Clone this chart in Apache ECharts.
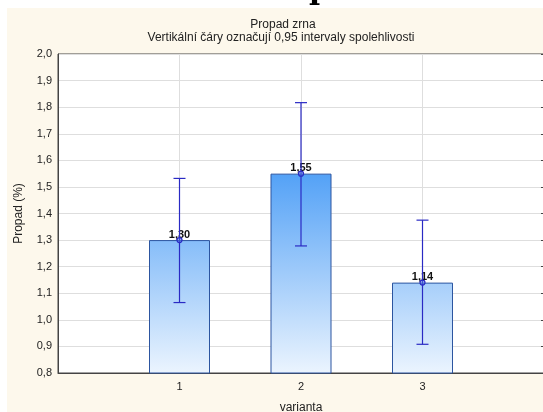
<!DOCTYPE html>
<html>
<head>
<meta charset="utf-8">
<script src="https://cdn.jsdelivr.net/npm/echarts@6/dist/echarts.min.js"></script>
<style>
  html, body { margin: 0; padding: 0; background: #ffffff; overflow: hidden; }
  #main { position: absolute; left: 0; top: 0; width: 547px; height: 412px; }
</style>
</head>
<body>
<div id="main"></div>
<script>
// varianta (pozice na ose x)
var varianty = [1, 2, 3];
// průměrný propad (%)
var prumery = [1.30, 1.55, 1.14];
// 0,95 intervaly spolehlivosti
var dolniMez = [1.065, 1.278, 0.908];
var horniMez = [1.532, 1.817, 1.375];
// osa y
var yMin = 0.8, yMax = 2.0, yKrok = 0.1;

var carka = function (v, d) {
    return v.toFixed(d).replace('.', ',');
};

var myChart = echarts.init(document.getElementById('main'));

var sloupce = [];
var chyby = [];
for (var i = 0; i < varianty.length; i++) {
    sloupce.push([varianty[i], prumery[i]]);
    chyby.push([varianty[i], dolniMez[i], horniMez[i], prumery[i]]);
}

var font = 'Liberation Sans, Arial, sans-serif';
var titulek = { fontSize: 12, fontWeight: 'normal', color: '#222', fontFamily: font, lineHeight: 14 };

var option = {
    backgroundColor: '#ffffff',
    animation: false,
    textStyle: { fontFamily: font },
    title: [{
        text: 'Propad zrna',
        left: 283,
        textAlign: 'center',
        top: 18,
        padding: 0,
        textStyle: titulek
    }, {
        text: 'Vertikální čáry označují 0,95 intervaly spolehlivosti',
        left: 281,
        textAlign: 'center',
        top: 31,
        padding: 0,
        textStyle: titulek
    }],
    graphic: [{
        type: 'rect',
        left: 7,
        top: 8,
        z: -10,
        shape: { width: 540, height: 404 },
        style: { fill: '#fdf8ec' }
    }, {
        type: 'text',
        left: 309,
        top: -24,
        style: { text: 'p', font: 'bold 30px "DejaVu Serif", serif', fill: '#000' }
    }],
    grid: {
        left: 58,
        right: 3,
        top: 54,
        bottom: 39,
        outerBoundsMode: 'none',
        show: true,
        backgroundColor: '#ffffff',
        borderColor: '#444',
        borderWidth: 1
    },
    xAxis: {
        type: 'value',
        min: 0,
        max: 4,
        interval: 1,
        name: 'varianta',
        nameLocation: 'middle',
        nameGap: 29,
        nameTextStyle: { fontSize: 12, color: '#222' },
        axisLine: { show: true, lineStyle: { color: '#444' } },
        axisTick: { show: true, inside: true, length: 3, lineStyle: { color: '#444' } },
        axisLabel: {
            fontSize: 11, color: '#222', margin: 8,
            formatter: function (v) { return (v >= 1 && v <= 3) ? String(v) : ''; }
        },
        splitLine: { show: true, lineStyle: { color: '#dedede' } }
    },
    yAxis: [{
        type: 'value',
        min: yMin,
        max: yMax,
        interval: yKrok,
        name: 'Propad (%)',
        nameLocation: 'middle',
        nameGap: 33,
        nameTextStyle: { fontSize: 12, color: '#222' },
        axisLine: { show: true, lineStyle: { color: '#444' } },
        axisTick: { show: false },
        axisLabel: {
            fontSize: 11, color: '#222', margin: 6,
            formatter: function (v) { return carka(v, 1); }
        },
        splitLine: { show: true, lineStyle: { color: '#dedede' } }
    }, {
        type: 'value',
        position: 'right',
        min: yMin,
        max: yMax,
        interval: yKrok,
        axisLine: { show: false },
        axisTick: { show: true, inside: true, length: 3, lineStyle: { color: '#444' } },
        axisLabel: { show: false },
        splitLine: { show: false }
    }],
    series: [
        {
            type: 'bar',
            data: sloupce,
            barWidth: 61,
            itemStyle: {
                color: new echarts.graphic.LinearGradient(0, 168, 0, 373, [
                    { offset: 0, color: '#4f9ff6' },
                    { offset: 1, color: '#ebf4fe' }
                ], true),
                borderColor: '#2c55a0',
                borderWidth: 1
            },
            label: {
                show: true,
                position: 'top',
                distance: 0,
                fontSize: 11,
                fontWeight: 'bold',
                color: '#111',
                formatter: function (p) { return carka(p.value[1], 2); }
            },
            z: 2
        },
        {
            type: 'custom',
            data: chyby,
            z: 3,
            renderItem: function (params, api) {
                var x = api.value(0);
                var lo = api.coord([x, api.value(1)]);
                var hi = api.coord([x, api.value(2)]);
                var m = api.coord([x, api.value(3)]);
                var cap = 6;
                var st = { stroke: '#2a2ac4', lineWidth: 1.2, fill: null };
                return {
                    type: 'group',
                    children: [
                        { type: 'line', shape: { x1: lo[0], y1: lo[1], x2: hi[0], y2: hi[1] }, style: st },
                        { type: 'line', shape: { x1: lo[0] - cap, y1: lo[1], x2: lo[0] + cap, y2: lo[1] }, style: st },
                        { type: 'line', shape: { x1: hi[0] - cap, y1: hi[1], x2: hi[0] + cap, y2: hi[1] }, style: st },
                        { type: 'circle', shape: { cx: m[0], cy: m[1], r: 2.5 }, style: { stroke: '#2a2ac4', lineWidth: 1.2, fill: 'rgba(80,120,230,0.5)' } }
                    ]
                };
            }
        }
    ]
};

myChart.setOption(option);
window.addEventListener('resize', function () {
    myChart.resize();
});
</script>
</body>
</html>
